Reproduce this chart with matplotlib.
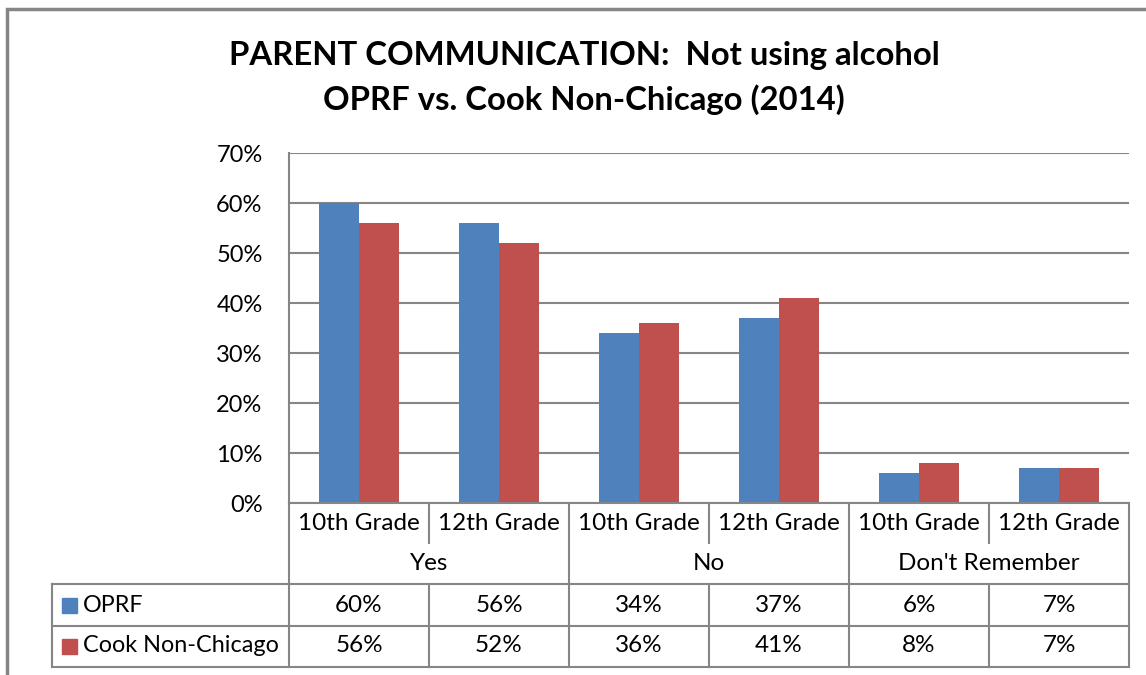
import numpy as np
import matplotlib.pyplot as plt
from matplotlib.patches import Rectangle

# Data
grades = ['10th Grade', '12th Grade', '10th Grade', '12th Grade', '10th Grade', '12th Grade']
groups = ['Yes', 'No', "Don't Remember"]
series = ['OPRF', 'Cook Non-Chicago']
oprf = [60, 56, 34, 37, 6, 7]
cook = [56, 52, 36, 41, 8, 7]
colors = ['#4F81BD', '#C0504D']

plt.rcParams['font.family'] = ['Lato', 'DejaVu Sans']

W, H = 1146, 675
fig = plt.figure(figsize=(W / 100, H / 100), dpi=100)


def fx(px):
    return px / W


def fy(py):
    return 1 - py / H


grid_c = '#868686'
lw = 1.5

# plot area in pixels
x0, x1, y0, y1 = 289, 1129, 153, 503
ax = fig.add_axes([fx(x0), fy(y1), fx(x1) - fx(x0), fy(y0) - fy(y1)])

n = len(grades)
idx = np.arange(n)
w = 40 / 140
ax.bar(idx - w / 2, oprf, w, color=colors[0], zorder=3)
ax.bar(idx + w / 2, cook, w, color=colors[1], zorder=3)
ax.set_xlim(-0.5, n - 0.5)
ax.set_ylim(0, 70)
ax.set_yticks(range(0, 71, 10))
ax.set_yticklabels([f'{v}%' for v in range(0, 71, 10)], fontsize=17)
ax.tick_params(axis='y', length=0, pad=19)
ax.set_xticks([])
ax.yaxis.grid(True, color=grid_c, lw=lw, zorder=0)
for s in ['top', 'right', 'bottom']:
    ax.spines[s].set_visible(False)
ax.spines['left'].set_color(grid_c)
ax.spines['left'].set_linewidth(lw)

# title
fig.text(fx(584), fy(55), 'PARENT COMMUNICATION:  Not using alcohol',
         ha='center', va='center', fontsize=23.7, fontweight='bold')
fig.text(fx(584), fy(100), 'OPRF vs. Cook Non-Chicago (2014)',
         ha='center', va='center', fontsize=23.7, fontweight='bold')

# outer chart frame (cropped on right and bottom)
fig.add_artist(Rectangle((fx(7), fy(700)), fx(1200), fy(9) - fy(700),
                         fill=False, edgecolor=grid_c, lw=2.5,
                         transform=fig.transFigure))


def hline(y, xa, xb):
    fig.add_artist(plt.Line2D([fx(xa), fx(xb)], [fy(y), fy(y)], color=grid_c, lw=lw))


def vline(x, ya, yb):
    fig.add_artist(plt.Line2D([fx(x), fx(x)], [fy(ya), fy(yb)], color=grid_c, lw=lw))


# data table
cw = (x1 - x0) / n
hline(503, x0, x1)
for y in [584, 626, 667]:
    hline(y, 52, x1)
vline(52, 584, 667)
vline(x0, 503, 667)
for i in range(1, n + 1):
    xx = x0 + i * cw
    if i % 2 == 0:
        vline(xx, 503, 667)
    else:
        vline(xx, 503, 543)
        vline(xx, 584, 667)

fs = 17.5
for i, g in enumerate(grades):
    fig.text(fx(x0 + (i + 0.5) * cw), fy(523), g, ha='center', va='center', fontsize=fs)
for j, g in enumerate(groups):
    fig.text(fx(x0 + (2 * j + 1) * cw), fy(563), g, ha='center', va='center', fontsize=fs)

for vals, row_y, name, c in zip([oprf, cook], [605, 646], series, colors):
    for i, v in enumerate(vals):
        fig.text(fx(x0 + (i + 0.5) * cw), fy(row_y), f'{v}%', ha='center', va='center', fontsize=fs)
    fig.add_artist(Rectangle((fx(62), fy(row_y + 8)), fx(15), fy(row_y - 7) - fy(row_y + 8),
                             color=c, transform=fig.transFigure))
    fig.text(fx(83), fy(row_y), name, ha='left', va='center', fontsize=16.8)

fig.savefig('out.png', dpi=100)
